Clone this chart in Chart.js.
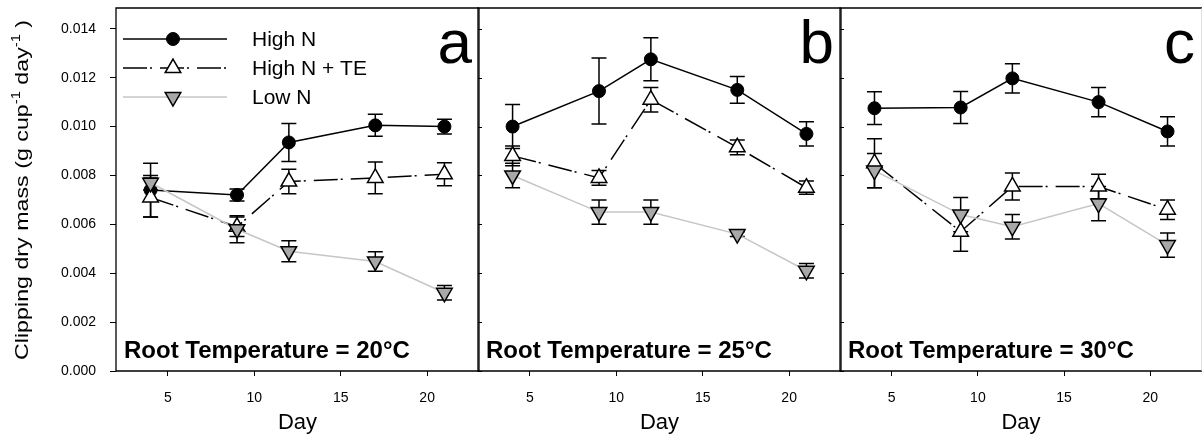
<!DOCTYPE html>
<html>
<head>
<meta charset="utf-8">
<script src="https://cdn.jsdelivr.net/npm/chart.js@4/dist/chart.umd.min.js"></script>
<style>
  body { margin: 0; background: #fff; width: 1202px; height: 437px; overflow: hidden; position: relative; }
  canvas { position: absolute; top: 0; }
</style>
</head>
<body>
<canvas id="panelA" width="481" height="437" style="left:0px"></canvas>
<canvas id="panelB" width="372" height="437" style="left:470px"></canvas>
<canvas id="panelC" width="370" height="437" style="left:832px"></canvas>
<script>
// data (day vs clipping dry mass, mean +/- error)
const days = [4, 9, 12, 17, 21];
const seriesNames = ["High N", "High N + TE", "Low N"];
const panelLetters = ["a", "b", "c"];
const panelLabels = ["Root Temperature = 20°C", "Root Temperature = 25°C", "Root Temperature = 30°C"];
const xTicks = [5, 10, 15, 20];
const yTicks = [0, 0.002, 0.004, 0.006, 0.008, 0.010, 0.012, 0.014];

// 20 C
const highN20 = [0.0074, 0.0072, 0.00935, 0.01005, 0.0100];
const highN20Err = [0.0011, 0.00025, 0.00078, 0.00045, 0.0003];
const highNTE20 = [0.0071, 0.0059, 0.00775, 0.0079, 0.00805];
const highNTE20Err = [0.0008, 0.0004, 0.0005, 0.00065, 0.00047];
const lowN20 = [0.0077, 0.0058, 0.0049, 0.00448, 0.0032];
const lowN20Err = [0.0003, 0.00055, 0.00043, 0.0004, 0.0003];

// 25 C
const highN25 = [0.0100, 0.01145, 0.01275, 0.0115, 0.0097];
const highN25Err = [0.0009, 0.00135, 0.00088, 0.00055, 0.0005];
const highNTE25 = [0.0088, 0.0079, 0.0111, 0.00915, 0.0075];
const highNTE25Err = [0.0004, 0.0003, 0.0005, 0.0003, 0.00027];
const lowN25 = [0.0080, 0.0065, 0.0065, 0.0056, 0.0041];
const lowN25Err = [0.0005, 0.0005, 0.0005, 0.0001, 0.0003];

// 30 C
const highN30 = [0.01075, 0.01078, 0.01197, 0.0110, 0.0098];
const highN30Err = [0.00067, 0.00065, 0.0006, 0.0006, 0.0006];
const highNTE30 = [0.0085, 0.0057, 0.00755, 0.00755, 0.0066];
const highNTE30Err = [0.001, 0.0008, 0.00055, 0.0005, 0.0004];
const lowN30 = [0.0082, 0.0064, 0.0059, 0.00685, 0.00515];
const lowN30Err = [0.0007, 0.0007, 0.0005, 0.0007, 0.0005];

const FONT = "'Liberation Sans', Arial, sans-serif";
Chart.defaults.font.family = FONT;
Chart.defaults.color = "#000";

// line / marker look of each series
const seriesStyles = [
  { borderColor: "#000", borderWidth: 1.5, pointStyle: "circle", pointRadius: 6.5, pointRotation: 0,
    pointBackgroundColor: "#000", pointBorderColor: "#000", pointBorderWidth: 1, order: 3 },
  { borderColor: "#000", borderWidth: 1.5, borderDash: [24, 3, 2, 8], pointStyle: "triangle", pointRadius: 9, pointRotation: 0,
    pointBackgroundColor: "#fff", pointBorderColor: "#000", pointBorderWidth: 1.5, order: 2 },
  { borderColor: "#c6c6c6", borderWidth: 1.5, pointStyle: "triangle", pointRadius: 9, pointRotation: 180,
    pointBackgroundColor: "#a8a8a8", pointBorderColor: "#000", pointBorderWidth: 1.5, order: 1 },
];

function makeDataset(i, values, errors) {
  return Object.assign({
    label: seriesNames[i],
    data: days.map((d, j) => ({ x: d, y: values[j] })),
    errors: errors,
    tension: 0,
    fill: false,
  }, seriesStyles[i]);
}

// error bars, drawn under the lines and markers
const errorBars = {
  id: "errorBars",
  beforeDatasetsDraw(chart) {
    const ctx = chart.ctx;
    const ys = chart.scales.y;
    ctx.save();
    ctx.strokeStyle = "#000";
    ctx.lineWidth = 1.5;
    chart.data.datasets.forEach((ds, i) => {
      const meta = chart.getDatasetMeta(i);
      meta.data.forEach((pt, j) => {
        const v = ds.data[j].y;
        const e = ds.errors[j];
        const top = ys.getPixelForValue(v + e);
        const bot = ys.getPixelForValue(v - e);
        ctx.beginPath();
        ctx.moveTo(pt.x, top); ctx.lineTo(pt.x, bot);
        ctx.moveTo(pt.x - 7.5, top); ctx.lineTo(pt.x + 7.5, top);
        ctx.moveTo(pt.x - 7.5, bot); ctx.lineTo(pt.x + 7.5, bot);
        ctx.stroke();
      });
    });
    ctx.restore();
  }
};

// frame, inward ticks, panel letter, temperature label, legend, y title
const panelDeco = {
  id: "panelDeco",
  afterDraw(chart, args, opts) {
    const ctx = chart.ctx;
    const a = chart.chartArea;
    const ys = chart.scales.y;
    ctx.save();
    ctx.strokeStyle = "#000";
    ctx.lineWidth = 1.3;
    ctx.beginPath();
    ctx.moveTo(a.right, a.top); ctx.lineTo(a.left, a.top);
    ctx.lineTo(a.left, a.bottom); ctx.lineTo(a.right, a.bottom);
    ctx.stroke();
    // right edge (the last one sits on the picture border, so it is faint)
    ctx.strokeStyle = opts.lastPanel ? "#d0d0d0" : "#000";
    ctx.beginPath();
    ctx.moveTo(a.right, a.top); ctx.lineTo(a.right, a.bottom);
    ctx.stroke();
    ctx.strokeStyle = "#000";

    if (opts.innerTicks) {
      ctx.lineWidth = 1;
      ys.ticks.forEach(t => {
        const y = Math.round(ys.getPixelForValue(t.value)) + 0.5;
        ctx.beginPath();
        ctx.moveTo(a.left, y); ctx.lineTo(a.left + 4, y);
        ctx.stroke();
      });
    }

    ctx.fillStyle = "#000";
    ctx.font = "62px " + FONT;
    ctx.textAlign = "right";
    ctx.textBaseline = "alphabetic";
    ctx.fillText(opts.letter, a.right - 7, a.top + 55);

    ctx.font = "bold 24px " + FONT;
    ctx.textAlign = "left";
    ctx.fillText(opts.label, a.left + 8, a.bottom - 13);

    if (opts.legend) {
      chart.data.datasets.forEach((ds, i) => {
        const y = a.top + 31 + i * 29;
        ctx.save();
        ctx.strokeStyle = ds.borderColor;
        ctx.lineWidth = ds.borderWidth;
        ctx.setLineDash(ds.borderDash || []);
        ctx.beginPath();
        ctx.moveTo(a.left + 7, y); ctx.lineTo(a.left + 111, y);
        ctx.stroke();
        ctx.setLineDash([]);
        ctx.fillStyle = ds.pointBackgroundColor;
        ctx.strokeStyle = ds.pointBorderColor;
        ctx.lineWidth = ds.pointBorderWidth;
        Chart.helpers.drawPoint(ctx, {
          pointStyle: ds.pointStyle, rotation: ds.pointRotation,
          radius: ds.pointRadius, borderWidth: ds.pointBorderWidth
        }, a.left + 57, y);
        ctx.restore();
        ctx.fillStyle = "#000";
        ctx.font = "21px " + FONT;
        ctx.textAlign = "left";
        ctx.textBaseline = "middle";
        ctx.fillText(ds.label, a.left + 136, y + 1);
      });
    }

    if (opts.yTitle) {
      // rotated axis title with superscripts
      const parts = [["Clipping dry mass (g cup", 0], ["-1", 1], [" day", 0], ["-1", 1], [" )", 0]];
      const big = "19px " + FONT, small = "12px " + FONT;
      let total = 0;
      parts.forEach(p => { ctx.font = p[1] ? small : big; total += ctx.measureText(p[0]).width; });
      const k = opts.yTitleLength / total;
      ctx.translate(opts.yTitleX, opts.yTitleY);
      ctx.rotate(-Math.PI / 2);
      ctx.scale(k, 1);
      ctx.textAlign = "left";
      ctx.textBaseline = "middle";
      let x = -total / 2;
      parts.forEach(p => {
        ctx.font = p[1] ? small : big;
        ctx.fillText(p[0], x, p[1] ? -6 : 0);
        x += ctx.measureText(p[0]).width;
      });
    }
    ctx.restore();
  }
};

function noPad(s) {
  s.paddingTop = 0; s.paddingBottom = 0; s.paddingLeft = 0; s.paddingRight = 0;
}

function makePanel(id, idx, high, highErr, te, teErr, low, lowErr) {
  const first = idx === 0;
  return new Chart(document.getElementById(id), {
    type: "line",
    data: {
      datasets: [
        makeDataset(0, high, highErr),
        makeDataset(1, te, teErr),
        makeDataset(2, low, lowErr),
      ]
    },
    options: {
      responsive: false,
      animation: false,
      devicePixelRatio: 1,
      events: [],
      layout: {
        autoPadding: false,
        padding: { top: 8, bottom: 0, left: first ? 0 : 8, right: idx === 2 ? 0 : (first ? 2 : 1) }
      },
      scales: {
        x: {
          type: "linear", min: 2, max: 23,
          afterFit(s) { s.height = 66; noPad(s); },
          afterBuildTicks(s) { s.ticks = xTicks.map(v => ({ value: v })); },
          ticks: { padding: 14, font: { size: 14 }, color: "#000" },
          grid: { drawOnChartArea: false, tickLength: 5, color: "#000", lineWidth: 1 },
          border: { display: false },
          title: { display: true, text: "Day", font: { size: 22 }, color: "#000", padding: { top: 0, bottom: 1 } }
        },
        y: {
          type: "linear", min: 0, max: 0.01485,
          display: first,
          afterFit(s) { s.width = first ? 116 : 0; noPad(s); },
          afterBuildTicks(s) { s.ticks = yTicks.map(v => ({ value: v })); },
          ticks: { padding: 14, font: { size: 14 }, color: "#000", callback: v => v.toFixed(3) },
          grid: { drawOnChartArea: false, tickLength: 6, color: "#000", lineWidth: 1 },
          border: { display: false }
        }
      },
      plugins: {
        legend: { display: false },
        tooltip: { enabled: false },
        panelDeco: {
          letter: panelLetters[idx], label: panelLabels[idx],
          legend: first, innerTicks: !first, lastPanel: idx === 2,
          yTitle: first, yTitleX: 23, yTitleY: 190, yTitleLength: 340
        }
      }
    },
    plugins: [errorBars, panelDeco]
  });
}

makePanel("panelA", 0, highN20, highN20Err, highNTE20, highNTE20Err, lowN20, lowN20Err);
makePanel("panelB", 1, highN25, highN25Err, highNTE25, highNTE25Err, lowN25, lowN25Err);
makePanel("panelC", 2, highN30, highN30Err, highNTE30, highNTE30Err, lowN30, lowN30Err);
</script>
</body>
</html>
